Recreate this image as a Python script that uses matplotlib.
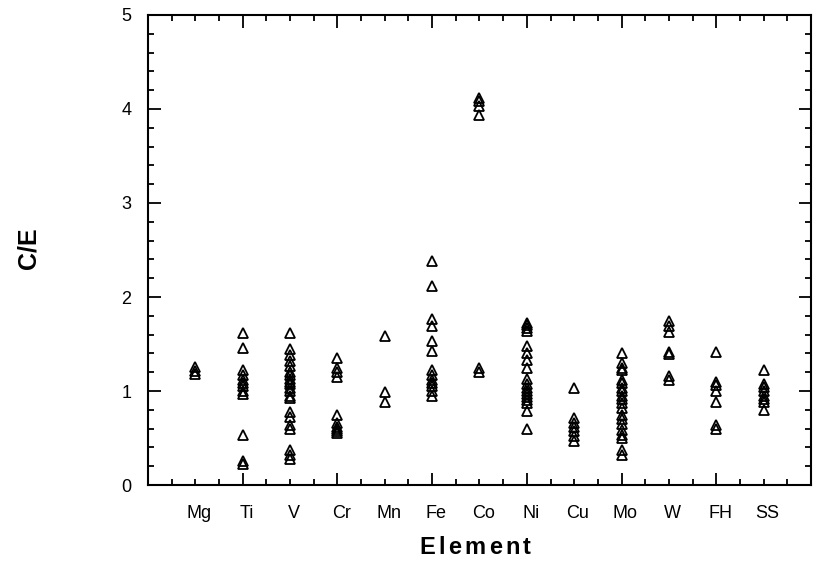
import numpy as np
from matplotlib import pyplot as plt
from matplotlib.ticker import MultipleLocator

# element names along the x axis
elements = ['Mg', 'Ti', 'V', 'Cr', 'Mn', 'Fe', 'Co', 'Ni', 'Cu', 'Mo', 'W', 'FH', 'SS']

# C/E values read for each element
mg = [1.26, 1.21, 1.18]
ti = [1.62, 1.46, 1.22, 1.17, 1.12, 1.08, 1.05, 1.0, 0.97, 0.53, 0.26, 0.22]
v = [1.62, 1.45, 1.38, 1.32, 1.27, 1.2, 1.17, 1.13, 1.1, 1.07, 1.03, 1.0,
     0.95, 0.93, 0.78, 0.72, 0.64, 0.6, 0.37, 0.32, 0.28]
cr = [1.35, 1.25, 1.2, 1.15, 0.75, 0.66, 0.62, 0.6, 0.57, 0.55]
mn = [1.59, 0.99, 0.88]
fe = [2.38, 2.12, 1.77, 1.69, 1.53, 1.43, 1.22, 1.17, 1.12, 1.08, 1.05, 1.0, 0.95]
co = [4.12, 4.08, 4.03, 3.94, 1.25, 1.2]
ni = [1.72, 1.7, 1.67, 1.64, 1.48, 1.4, 1.33, 1.25, 1.13, 1.07, 1.03, 1.0,
      0.97, 0.94, 0.9, 0.87, 0.79, 0.6]
cu = [1.03, 0.71, 0.66, 0.62, 0.57, 0.52, 0.47]
mo = [1.4, 1.3, 1.25, 1.22, 1.12, 1.08, 1.03, 1.0, 0.95, 0.91, 0.87, 0.82,
      0.75, 0.7, 0.65, 0.58, 0.53, 0.5, 0.37, 0.32]
w = [1.75, 1.69, 1.63, 1.42, 1.39, 1.16, 1.12]
fh = [1.42, 1.1, 1.06, 1.0, 0.88, 0.64, 0.6]
ss = [1.22, 1.07, 1.04, 1.0, 0.95, 0.92, 0.88, 0.8]

values = [mg, ti, v, cr, mn, fe, co, ni, cu, mo, w, fh, ss]

plt.rcParams['font.family'] = ['Liberation Sans', 'DejaVu Sans']
narrow = ['Liberation Sans Narrow', 'Liberation Sans', 'DejaVu Sans']


def spaced_text(fig, x, y, s, gap, **kw):
    # draw a string letter by letter with extra tracking, centred on x (figure coords)
    renderer = fig.canvas.get_renderer()
    figw = fig.bbox.width
    texts = []
    pos = 0.0
    for ch in s:
        t = fig.text(pos, y, ch, ha='left', va='center', **kw)
        wd = t.get_window_extent(renderer).width / figw
        texts.append((t, pos))
        pos = pos + wd + gap
    total = pos - gap
    for t, p in texts:
        t.set_x(x - total / 2 + p)


fig = plt.figure(figsize=(8.14, 5.70), dpi=100)
ax = fig.add_axes([0.1818, 0.1491, 0.8145, 0.8246])

for i, vals in enumerate(values):
    xs = np.full(len(vals), i + 1)
    ax.plot(xs, vals, linestyle='none', marker='^', markersize=7,
            markerfacecolor='none', markeredgecolor='black', markeredgewidth=1.3)

ax.set_xlim(0, 14)
ax.set_ylim(0, 5)

# x: minor ticks every half element, major every two
ax.xaxis.set_major_locator(MultipleLocator(2))
ax.xaxis.set_minor_locator(MultipleLocator(0.5))
ax.set_xticklabels([])
ax.yaxis.set_major_locator(MultipleLocator(1))
ax.yaxis.set_minor_locator(MultipleLocator(0.2))

ax.tick_params(which='both', direction='in', top=True, right=True, width=1.3)
ax.tick_params(which='major', length=9)
ax.tick_params(which='minor', length=4)
ax.tick_params(axis='y', labelsize=13, pad=12)
for s in ax.spines.values():
    s.set_linewidth(1.5)

# element names sit under each column
for i, name in enumerate(elements):
    ax.text(i + 1.08, -0.3, name, ha='center', va='center', fontsize=13,
            family=narrow, transform=ax.transData)

spaced_text(fig, 0.5835, 0.04, 'Element', 0.004, fontsize=17, fontweight='bold')
fig.text(0.035, 0.565, 'C/E', ha='center', va='center', fontsize=18, fontweight='bold',
         rotation=90)

fig.savefig('out.png', dpi=100)
